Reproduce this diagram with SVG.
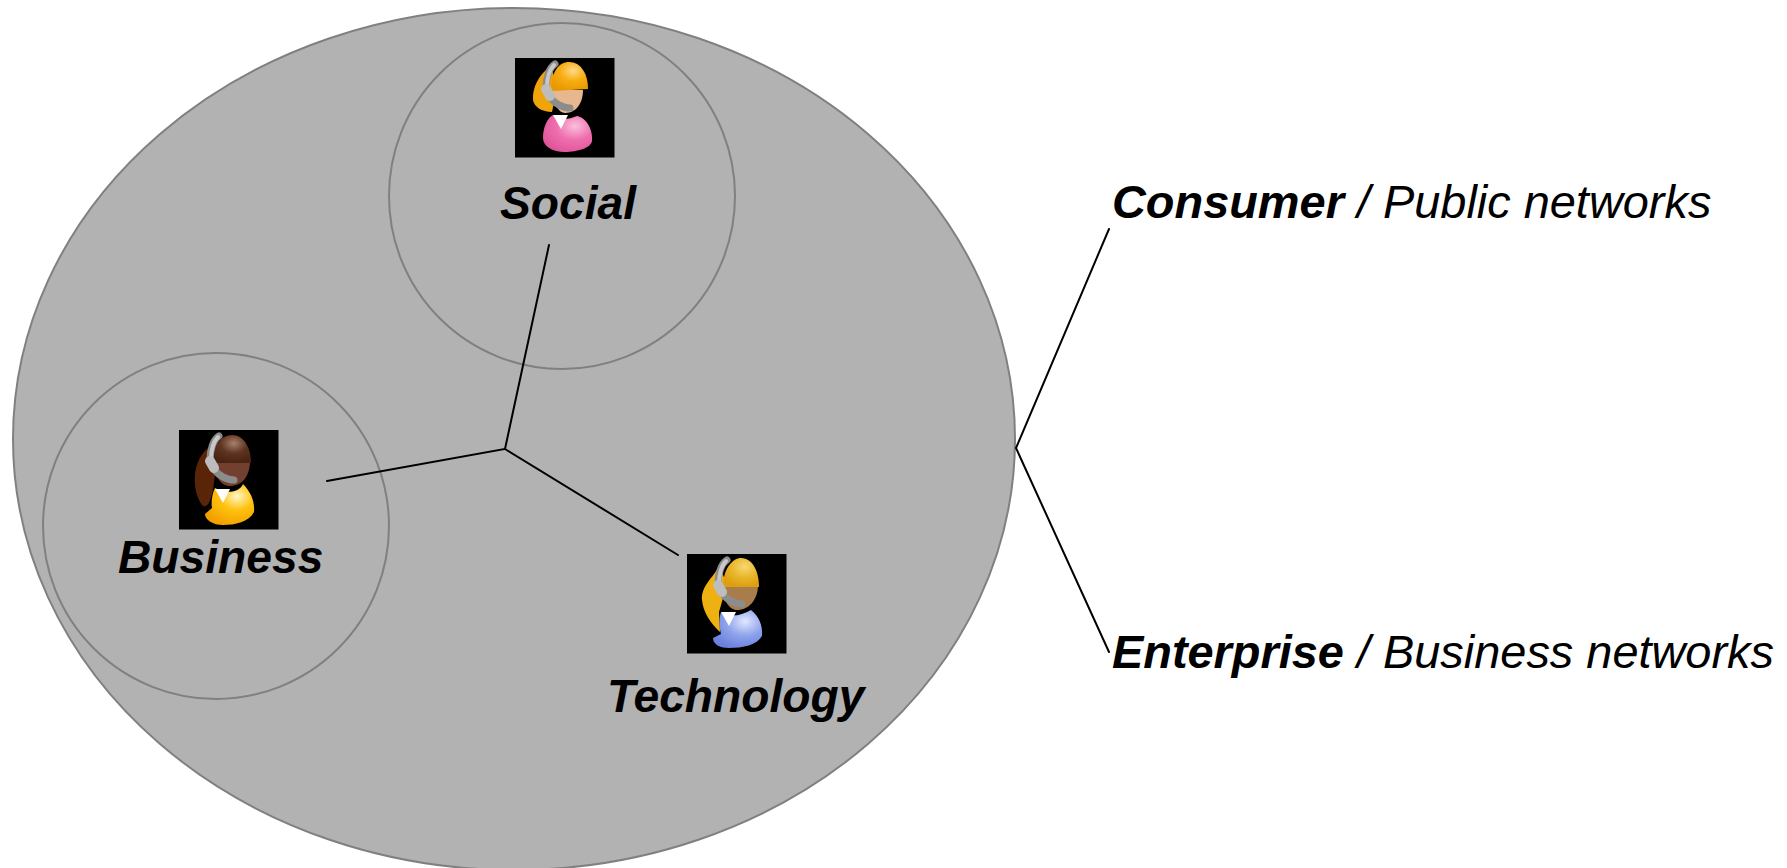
<svg xmlns="http://www.w3.org/2000/svg" xmlns:xlink="http://www.w3.org/1999/xlink" width="1787" height="868" viewBox="0 0 1787 868">
<style>
text{font-family:"Liberation Sans",Arial,sans-serif;font-size:46.2px;font-style:italic;fill:#000}
.side{font-size:46.9px}
.b{font-weight:700}
.ring{fill:none;stroke:#808080;stroke-width:2}
.con{stroke:#000;stroke-width:2;fill:none;stroke-linecap:round}
</style>
<defs>
<radialGradient id="hairY" cx=".6" cy=".3" r=".7"><stop offset="0" stop-color="#ffd98a"/><stop offset=".5" stop-color="#f7ae12"/><stop offset="1" stop-color="#e89a00"/></radialGradient>
<radialGradient id="hairG" cx=".6" cy=".3" r=".7"><stop offset="0" stop-color="#f6d874"/><stop offset=".5" stop-color="#eab82c"/><stop offset="1" stop-color="#dd9f10"/></radialGradient>
<radialGradient id="hairB" cx=".55" cy=".3" r=".7"><stop offset="0" stop-color="#a8806e"/><stop offset=".5" stop-color="#5f3420"/><stop offset="1" stop-color="#4a2412"/></radialGradient>
<radialGradient id="pink" cx=".65" cy=".3" r=".75"><stop offset="0" stop-color="#fbc0dc"/><stop offset=".5" stop-color="#ef6fae"/><stop offset="1" stop-color="#e0559a"/></radialGradient>
<radialGradient id="gold" cx=".65" cy=".3" r=".75"><stop offset="0" stop-color="#fff6c8"/><stop offset=".45" stop-color="#ffc20e"/><stop offset="1" stop-color="#f29f00"/></radialGradient>
<radialGradient id="blue" cx=".65" cy=".3" r=".75"><stop offset="0" stop-color="#e2e8ff"/><stop offset=".5" stop-color="#8ea4ec"/><stop offset="1" stop-color="#6a80dc"/></radialGradient>
<g id="headset" fill="none" stroke-linecap="round" stroke-linejoin="round">
<path d="M40 6 C34 10 31 20 31 30 C32 37 38 44 44 47 C48 49 52 50 55 50" stroke="#8c8c8c" stroke-width="7"/>
<path d="M39 7 C34 12 32 20 32 30" stroke="#c8c8c8" stroke-width="4"/>
<path d="M31 31 L35 38" stroke="#bdbdbd" stroke-width="10"/>
</g>
<path id="collar" d="M38 57 L53 57 L46 71 Z" fill="#fff"/>
</defs>

<g id="universe"><ellipse cx="514" cy="439" rx="501" ry="431" fill="#b2b2b2" stroke="#808080" stroke-width="2"/></g>
<circle class="ring" cx="562" cy="196" r="173"/>
<circle class="ring" cx="216" cy="526" r="173"/>

<g id="connectors">
<path class="con" d="M549 245 L505 449 L327 481"/>
<path class="con" d="M505 449 L678 555"/>
<path class="con" d="M1109 229 L1016 448 L1109 652"/>
</g>

<g id="social">
<g transform="translate(515 58)">
<rect width="99.5" height="99.5" fill="#000"/>
<path d="M36 8 C24 16 17 30 18 42 C19 49 27 54 37 54 L42 30 Z" fill="#f0a40c"/>
<path d="M38 32 L68 32 C68 44 62 55 50 55 C44 55 38 46 38 32Z" fill="#e7b78f"/>
<path d="M36 32 C36 14 44 4 54 4 C66 4 73 16 73 31 L38 33 Z" fill="url(#hairY)"/>
<path d="M38 57 C45 62 52 62 62 58 C72 60 78 72 77 83 C76 90 62 94 50 94 C37 94 28 88 28 80 C28 70 32 60 38 57Z" fill="url(#pink)"/>
<use xlink:href="#collar" href="#collar"/>
<use xlink:href="#headset" href="#headset"/>
</g>
<text class="b" x="500" y="219">Social</text>
</g>

<g id="business">
<g transform="translate(179 430)">
<rect width="99.5" height="99.5" fill="#000"/>
<path d="M32 16 C12 28 12 62 24 76 C30 78 32 68 34 60 L38 30Z" fill="#5a2408"/>
<path d="M34 33 L71 33 C70 46 64 56 50 56 C42 56 36 46 34 33Z" fill="#734030"/>
<path d="M34 33 C32 16 42 5 53 5 C65 5 72 18 72 33 Z" fill="url(#hairB)"/>
<path d="M36 58 C50 66 62 60 64 54 C72 62 76 72 75 82 C70 92 56 95 44 95 C34 95 26 90 26 84 L33 78 C32 72 33 64 36 58Z" fill="url(#gold)"/>
<use xlink:href="#collar" href="#collar" x="-2" y="2"/>
<use xlink:href="#headset" href="#headset"/>
</g>
<text class="b" x="118" y="573">Business</text>
</g>

<g id="technology">
<g transform="translate(687 554)">
<rect width="99.5" height="99.5" fill="#000"/>
<path d="M32 12 C26 24 14 32 15 46 C16 58 24 70 33 78 L32 58 L40 30Z" fill="#efb012"/>
<path d="M36 33 L71 33 C70 46 62 56 50 56 C42 56 36 46 36 33Z" fill="#a97c4c"/>
<path d="M36 33 C36 14 46 4 54 4 C66 4 72 18 72 33 Z" fill="url(#hairG)"/>
<path d="M34 58 C42 64 54 62 64 56 C72 62 76 72 75 82 C70 91 56 94 42 94 C34 94 26 91 26 84 L34 80 C32 72 32 64 34 58Z" fill="url(#blue)"/>
<use xlink:href="#collar" href="#collar" x="-4" y="1"/>
<use xlink:href="#headset" href="#headset"/>
</g>
<text class="b" x="607" y="712">Technology</text>
</g>

<g id="consumer"><text class="side" x="1112" y="218"><tspan class="b">Consumer</tspan> / Public networks</text></g>
<g id="enterprise"><text class="side" x="1112" y="668"><tspan class="b">Enterprise</tspan> / Business networks</text></g>
</svg>
